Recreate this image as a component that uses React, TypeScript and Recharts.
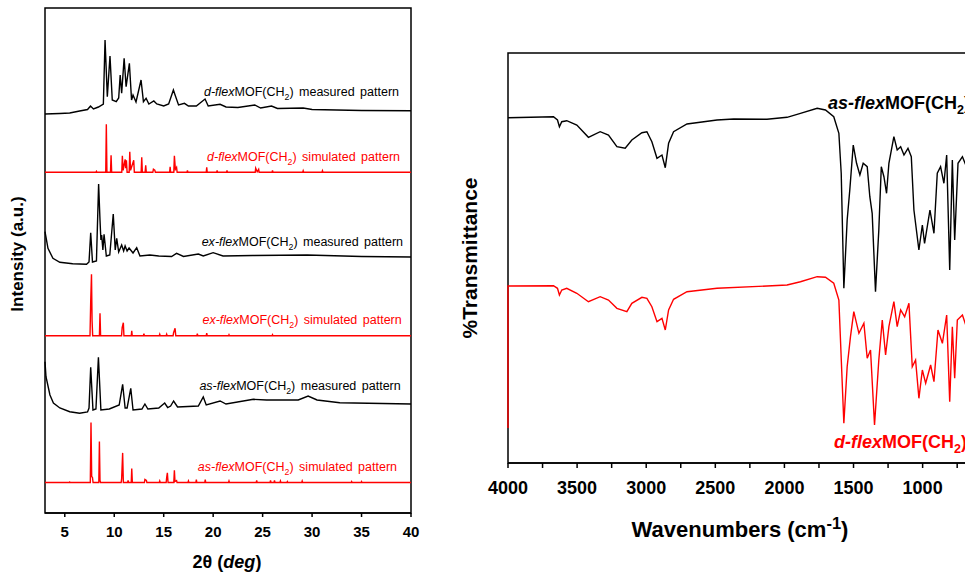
import { LineChart, Line, XAxis, YAxis, ReferenceArea } from "recharts";

const FONT = "'Liberation Sans', Arial, sans-serif";

// XRD patterns: [2theta, intensity above the trace's own baseline]
const dMeasured: [number, number][] = [
  [3, -3.3], [4.5, -2.8], [5.5, -2.3], [6.5, -0.3], [7.3, 1.2], [7.6, 4.7], [7.9, 1.7], [8.4, 3.7],
  [8.9, 6.7], [9.07, 70.7], [9.3, 14], [9.57, 54.7], [9.8, 10.7], [10.2, 9], [10.45, 12.7], [10.6, 35.7],
  [10.75, 17.4], [11.0, 52.4], [11.2, 24], [11.53, 47.4], [11.75, 10.7], [11.9, 15.7], [12.2, 8.7],
  [12.71, 30.7], [12.95, 9], [13.22, 12.4], [13.5, 6.7], [14.0, 9.7], [14.3, 6.7], [15.0, 4.7], [15.5, 6.7],
  [15.98, 20.7], [16.15, 15.7], [16.5, 5.7], [17.1, 7.4], [17.5, 4.7], [18.3, 4.7], [19.18, 11.7],
  [19.5, 4.7], [20.7, 6.4], [21.3, 3.7], [22.5, 3.2], [24.2, 5.7], [24.8, 2.7], [25.9, 4.7], [26.5, 2.2],
  [29.1, 2.7], [30, 1.2], [35, 0.2], [40, 0],
];

const dSimulated: [number, number][] = [
  [3, 0], [8.15, 0], [8.2, 1], [8.25, 0], [9.14, 0], [9.2, 48], [9.26, 0], [9.62, 0], [9.68, 17], [9.74, 0],
  [10.76, 0], [10.82, 16.6], [10.9, 2], [11.1, 13], [11.16, 4], [11.23, 12], [11.3, 0], [11.51, 0],
  [11.57, 20.6], [11.65, 2], [11.97, 12], [12.03, 0], [12.72, 0], [12.78, 15], [12.84, 0], [13.12, 0],
  [13.18, 7], [13.24, 0], [13.9, 0], [13.96, 3], [14.1, 2], [14.16, 0], [15.6, 0], [15.65, 5.6], [15.7, 0],
  [16.02, 0], [16.08, 16.6], [16.18, 3], [16.3, 5], [16.36, 0], [17.35, 0], [17.4, 2], [17.45, 0],
  [19.3, 0], [19.35, 5], [19.4, 0], [20.35, 0], [20.4, 2], [20.45, 0], [21.35, 0], [21.4, 2], [21.45, 0],
  [24.25, 0], [24.3, 4], [24.45, 0.5], [24.6, 3], [24.65, 0], [25.95, 0], [26, 2], [26.05, 0],
  [29.05, 0], [29.1, 1.5], [29.15, 0], [31, 0], [31.05, 1.5], [31.1, 0], [40, 0],
];

const exMeasured: [number, number][] = [
  [3, 25], [3.3, 8.4], [3.8, -1.6], [4.5, -5.6], [5.8, -7], [7.2, -7.6], [7.45, -5.3], [7.62, 24],
  [7.8, -5.3], [8.2, -4.3], [8.42, 72.7], [8.56, 36.7], [8.65, 16.7], [8.73, 21.7], [8.85, 6.7],
  [8.97, 22.4], [9.2, 0.7], [9.55, 1.7], [9.9, 42.7], [10.1, 6.7], [10.25, 18.4], [10.45, 4.7],
  [10.75, 11.7], [10.95, 5.7], [11.1, 10.7], [11.3, 5.7], [11.5, 8.7], [11.9, 3.7], [12.27, 9],
  [12.6, 0.7], [13.6, 1.7], [14.5, 0.7], [15.8, 0.2], [16.3, 3.4], [17.0, 0.2], [18.5, 2.7], [19.0, 0.7],
  [20.0, 4], [21, 0.7], [24, 1.2], [29.5, 1.7], [35, 0.2], [40, -0.3],
];

const exSimulated: [number, number][] = [
  [3, 0], [7.55, 0], [7.62, 34], [7.7, 61.4], [7.76, 15], [7.82, 0], [8.5, 0], [8.56, 22.4], [8.62, 0],
  [10.74, 0], [10.8, 8], [10.92, 13], [10.98, 0], [11.72, 0], [11.77, 5], [11.82, 0], [12.95, 0], [13, 2],
  [13.05, 0], [14.55, 0], [14.6, 1.5], [14.65, 0], [15.25, 0], [15.3, 1.5], [15.35, 0], [15.95, 0],
  [16, 3], [16.15, 7.4], [16.22, 0], [18.35, 0], [18.4, 2], [18.45, 0], [19.3, 0], [19.35, 2.5], [19.4, 0],
  [21.55, 0], [21.6, 1], [21.65, 0], [25.95, 0], [26, 1], [26.05, 0], [40, 0],
];

const asMeasured: [number, number][] = [
  [3, 42.3], [3.1, 27.3], [3.5, 9], [3.85, 1], [4.5, -4], [5.5, -7.7], [6.5, -9.3], [7.3, -8], [7.45, -4],
  [7.62, 36.7], [7.85, -6], [8.15, -5], [8.4, 46.7], [8.65, -6], [9.5, -5], [10.5, -1], [10.85, 19.7],
  [11.1, -4], [11.3, -4], [11.67, 15.7], [11.9, -6], [12.8, -5], [13.1, 0], [13.4, -5], [14.5, -4],
  [15.1, 1], [15.4, -3.5], [15.7, -2], [16.0, 3], [16.4, -3], [18.5, -2], [19.0, 7], [19.3, -1],
  [20.7, 3], [21.3, 0], [24.07, 4.7], [25.4, 4], [27.45, 4], [28.6, 4], [29.6, 8], [30.5, 4],
  [32.8, 1.3], [40, 0],
];

const asSimulated: [number, number][] = [
  [3, 0], [5.45, 0], [5.5, 0.5], [5.55, 0], [7.58, 0], [7.65, 60], [7.72, 6], [7.8, 5], [7.86, 0],
  [8.44, 0], [8.5, 41], [8.56, 2], [8.62, 0], [10.7, 0], [10.75, 4], [10.85, 29.6], [10.92, 0],
  [11.35, 0], [11.4, 2], [11.45, 0], [11.72, 0], [11.77, 14], [11.83, 0], [13.05, 0], [13.1, 3],
  [13.25, 2], [13.3, 0], [14.55, 0], [14.6, 1.5], [14.65, 0], [15.25, 0], [15.3, 5], [15.37, 9.7],
  [15.44, 0], [16.02, 0], [16.08, 12.3], [16.14, 1], [16.3, 2], [16.35, 0], [17.45, 0], [17.5, 1.5],
  [17.55, 0], [18.25, 0], [18.3, 3], [18.35, 0], [19.15, 0], [19.2, 3], [19.25, 0], [21.55, 0],
  [21.6, 1.5], [21.65, 0], [24.35, 0], [24.4, 2], [24.45, 0], [25.75, 0], [25.8, 2], [25.85, 0],
  [26.15, 0], [26.2, 2], [26.25, 0], [26.75, 0], [26.8, 1.5], [26.85, 0], [27.45, 0], [27.5, 1],
  [27.55, 0], [28.95, 0], [29, 1.5], [29.05, 0], [33.95, 0], [34, 1], [34.05, 0], [34.95, 0], [35, 1],
  [35.05, 0], [40, 0],
];

// stacking offsets (top to bottom)
const xrdTraces = [dMeasured, dSimulated, exMeasured, exSimulated, asMeasured, asSimulated];
const xrdOffsets = [402.3, 340.7, 256.3, 177.3, 109, 30.5];
const xrdColors = ["#000", "#ff0000", "#000", "#ff0000", "#000", "#ff0000"];
const xrdTicks = [5, 10, 15, 20, 25, 30, 35, 40];

// IR spectra: [wavenumber, %T (arbitrary units)]
const irAs: [number, number][] = [
  [4000, 345.3], [3671, 346.3], [3642, 343], [3628, 336.3], [3611, 341.3], [3575, 342.3], [3502, 338],
  [3418, 325.7], [3333, 331.3], [3273, 328], [3212, 316.3], [3152, 314.7], [3104, 323], [3031, 330.3],
  [2995, 331.3], [2959, 321.3], [2922, 304.7], [2886, 308], [2862, 295.3], [2838, 319.7], [2802, 331.3],
  [2705, 339], [2488, 343], [2367, 344], [2126, 343.7], [1981, 345.7], [1884, 349.7], [1763, 354.7],
  [1703, 353], [1643, 346.3], [1606, 329.7], [1589, 289.7], [1570, 174.7], [1546, 243], [1527, 273],
  [1502, 318], [1478, 299.7], [1454, 288], [1430, 299.7], [1401, 296.3], [1382, 266.3], [1365, 249.7],
  [1341, 171.3], [1317, 233], [1299, 296.3], [1280, 286.3], [1261, 269.7], [1244, 299.7], [1208, 326.3],
  [1184, 313], [1159, 316.3], [1135, 308], [1106, 314.7], [1082, 306.3], [1063, 253], [1027, 213],
  [1002, 238], [986, 219.7], [947, 253], [918, 229.7], [894, 289.7], [870, 296.3], [846, 279.7],
  [826, 308], [804, 193], [785, 303], [768, 223], [744, 299.7], [712, 306.3], [688, 298], [660, 300],
];

const irD: [number, number][] = [
  [4000, 35], [4000, 177], [3671, 177.3], [3642, 174.7], [3628, 168], [3611, 173], [3575, 174.7],
  [3502, 169.7], [3418, 161.3], [3333, 166.3], [3273, 163], [3212, 154.7], [3140, 151.3], [3104, 159.7],
  [3031, 165.7], [2995, 164.7], [2959, 156.3], [2922, 141.3], [2886, 144.7], [2862, 133], [2838, 153],
  [2802, 163.7], [2705, 171.3], [2488, 174.7], [2126, 177], [1981, 178], [1884, 181.3], [1763, 186.3],
  [1703, 185.7], [1643, 179.7], [1606, 163], [1570, 39.7], [1546, 96.3], [1522, 126.3], [1498, 151.3],
  [1461, 129.7], [1425, 139.7], [1401, 104.7], [1377, 113], [1348, 38], [1317, 103], [1292, 143],
  [1268, 108], [1244, 136.3], [1208, 161.3], [1184, 136.3], [1159, 153], [1130, 146.3], [1099, 159.7],
  [1075, 96.3], [1051, 103], [1027, 64.7], [1002, 93], [978, 79.7], [942, 98], [918, 81.3], [889, 133],
  [857, 119.7], [826, 148], [804, 61.3], [785, 136.3], [768, 84.7], [749, 143], [712, 148], [688, 138],
  [660, 140],
];

const irTicks = [4000, 3750, 3500, 3250, 3000, 2750, 2500, 2250, 2000, 1750, 1500, 1250, 1000, 750];
const irLabelled = [4000, 3500, 3000, 2500, 2000, 1500, 1000];

const toRows = (pts: [number, number][], offset = 0) => pts.map(([x, y]) => ({ x, y: y + offset }));

const abs = (l: number, t: number, extra: any = {}) => ({
  position: "absolute" as const, left: l, top: t, whiteSpace: "nowrap" as const, fontFamily: FONT, ...extra,
});

function XrdLabel({ top, right, color, prefix, suffix }: any) {
  return (
    <div style={{ ...abs(0, top - 7), left: "auto", right: 965 - right, fontSize: 12.5, lineHeight: "14px", color, wordSpacing: 2 }}>
      <i>{prefix}-flex</i>MOF(CH<sub style={{ fontSize: "0.7em", lineHeight: 0 }}>2</sub>) {suffix} pattern
    </div>
  );
}

export default function App() {
  const xrdTick = (p: any) => (
    <text x={p.x} y={p.y} dy={18} textAnchor="middle" fontFamily={FONT} fontWeight="bold" fontSize={15} fill="#000">
      {p.payload.value}
    </text>
  );
  const irTick = (p: any) =>
    irLabelled.includes(p.payload.value) ? (
      <text x={p.x} y={p.y} dy={24} textAnchor="middle" fontFamily={FONT} fontWeight="bold" fontSize={18} fill="#000">
        {p.payload.value}
      </text>
    ) : (
      <g />
    );

  return (
    <div style={{ position: "fixed", left: 0, top: 0, width: 965, height: 572, overflow: "hidden", background: "#fff" }}>
      <div style={{ position: "absolute", left: 0, top: 0 }}>
        <LineChart width={420} height={572} margin={{ top: 8, right: 9, bottom: 34, left: 45 }}>
          <XAxis type="number" dataKey="x" domain={[3, 40]} ticks={xrdTicks} tick={xrdTick} tickSize={4}
            interval={0} height={25} stroke="#000" strokeWidth={1.5} />
          <YAxis type="number" domain={[0, 505]} hide />
          <ReferenceArea x1={3} x2={40} y1={0} y2={505} fill="none" stroke="#000" strokeWidth={1.5} />
          {xrdTraces.map((t, i) => (
            <Line key={i} data={toRows(t, xrdOffsets[i])} dataKey="y" stroke={xrdColors[i]} strokeWidth={1.4}
              dot={false} isAnimationActive={false} type="linear" />
          ))}
        </LineChart>
      </div>

      <div style={{ position: "absolute", left: 0, top: 0 }}>
        <LineChart width={971} height={572} margin={{ top: 53, right: 0, bottom: 69, left: 508 }}>
          <XAxis type="number" dataKey="x" domain={[650, 4000]} reversed ticks={irTicks} tick={irTick}
            interval={0} tickSize={5} height={40} stroke="#000" strokeWidth={1.5} />
          <YAxis type="number" domain={[0, 410]} hide />
          <ReferenceArea x1={650} x2={4000} y1={0} y2={410} fill="none" stroke="#000" strokeWidth={1.5} />
          <Line data={toRows(irAs)} dataKey="y" stroke="#000" strokeWidth={1.4} dot={false} isAnimationActive={false} />
          <Line data={toRows(irD)} dataKey="y" stroke="#ff0000" strokeWidth={1.4} dot={false} isAnimationActive={false} />
        </LineChart>
      </div>

      <XrdLabel top={91.7} right={399} color="#000" prefix="d" suffix="measured" />
      <XrdLabel top={156.7} right={400} color="#ff0000" prefix="d" suffix="simulated" />
      <XrdLabel top={241.7} right={403} color="#000" prefix="ex" suffix="measured" />
      <XrdLabel top={320} right={401.7} color="#ff0000" prefix="ex" suffix="simulated" />
      <XrdLabel top={386} right={400.7} color="#000" prefix="as" suffix="measured" />
      <XrdLabel top={466.7} right={397} color="#ff0000" prefix="as" suffix="simulated" />

      <div style={{ ...abs(-82, 244), width: 200, textAlign: "center", fontSize: 17, fontWeight: "bold", lineHeight: "20px", transform: "rotate(-90deg)" }}>
        Intensity (a.u.)
      </div>
      <div style={{ ...abs(127, 551), width: 200, textAlign: "center", fontSize: 18, fontWeight: "bold", lineHeight: "22px" }}>
        2θ (<i>deg</i>)
      </div>

      <div style={{ ...abs(370, 245), width: 200, textAlign: "center", fontSize: 21, fontWeight: "bold", lineHeight: "26px", transform: "rotate(-90deg)" }}>
        %Transmittance
      </div>
      <div style={{ ...abs(590, 516), width: 300, textAlign: "center", fontSize: 22, fontWeight: "bold", lineHeight: "28px" }}>
        Wavenumbers (cm<sup style={{ fontSize: "0.75em", lineHeight: 0 }}>-1</sup>)
      </div>

      <div style={{ ...abs(828, 92), fontSize: 18, fontWeight: "bold", lineHeight: "22px", color: "#000" }}>
        <i>as-flex</i>MOF(CH<sub style={{ fontSize: "0.7em", lineHeight: 0 }}>2</sub>)
      </div>
      <div style={{ ...abs(834, 431), fontSize: 18, fontWeight: "bold", lineHeight: "22px", color: "#ff0000" }}>
        <i>d-flex</i>MOF(CH<sub style={{ fontSize: "0.7em", lineHeight: 0 }}>2</sub>)
      </div>
    </div>
  );
}
